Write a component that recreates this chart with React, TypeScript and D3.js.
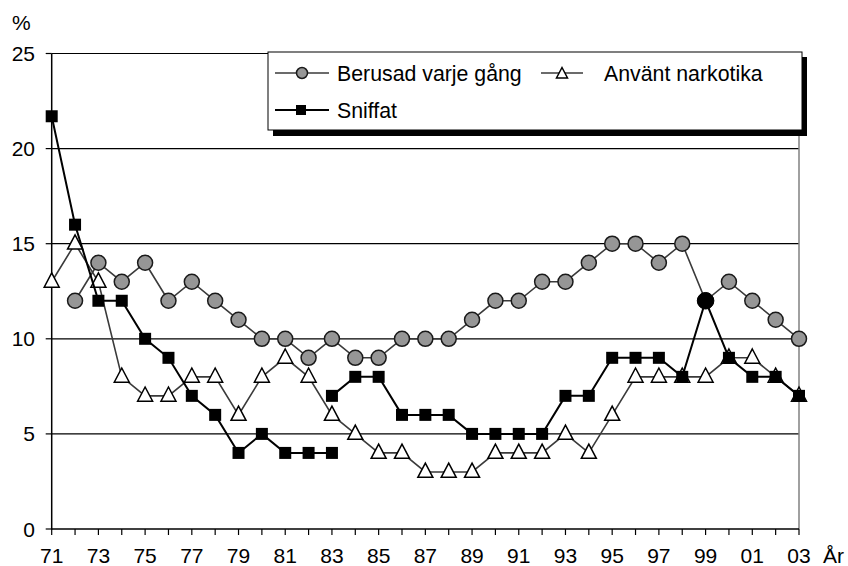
import React from "react";
import * as d3 from "d3";

const years = ["71","72","73","74","75","76","77","78","79","80","81","82","83","84","85","86","87","88","89","90","91","92","93","94","95","96","97","98","99","00","01","02","03"];
const xTickLabels = ["71","73","75","77","79","81","83","85","87","89","91","93","95","97","99","01","03"];
const yTicks = [0, 5, 10, 15, 20, 25];

const berusad: (number | null)[] = [null,12,14,13,14,12,13,12,11,10,10,9,10,9,9,10,10,10,11,12,12,13,13,14,15,15,14,15,12,13,12,11,10];
const anvant: (number | null)[] = [13,15,13,8,7,7,8,8,6,8,9,8,6,5,4,4,3,3,3,4,4,4,5,4,6,8,8,8,8,9,9,8,7];
const sniffatOld: (number | null)[] = [21.7,16,12,12,10,9,7,6,4,5,4,4,4,null,null,null,null,null,null,null,null,null,null,null,null,null,null,null,null,null,null,null,null];
const sniffatNew: (number | null)[] = [null,null,null,null,null,null,null,null,null,null,null,null,7,8,8,6,6,6,5,5,5,5,7,7,9,9,9,8,12,9,8,8,7];
const highlightYears = ["99"];
const highlightValues = [12];

const W = 848, H = 566;
const FONT = "'Liberation Sans', Arial, Helvetica, sans-serif";

export default function App() {
  const x = d3.scalePoint<string>().domain(years).range([51.7, 799]);
  const y = d3.scaleLinear().domain([0, 25]).range([529, 53.5]);

  const line = d3
    .line<number | null>()
    .defined((d) => d !== null)
    .x((_, i) => x(years[i]) as number)
    .y((d) => y(d as number));

  const pts = (arr: (number | null)[]) =>
    arr.map((v, i) => ({ v, yr: years[i] })).filter((d) => d.v !== null) as { v: number; yr: string }[];

  const tri = (cx: number, cy: number, s: number) => {
    const h = s * 0.95;
    return `M${cx},${cy - h * 0.62}L${cx + s / 2},${cy + h * 0.38}L${cx - s / 2},${cy + h * 0.38}Z`;
  };

  const x0 = 51.7, x1 = 799, yBot = 529, yTop = 53.5;

  // legend
  const lx = 268, ly = 52, lw = 534, lh = 78;
  const row1 = 73, row2 = 110;

  return (
    <svg width={W} height={H} style={{ position: "absolute", left: 0, top: 0, background: "#fff" }} fontFamily={FONT}>
      <rect x={0} y={0} width={W} height={H} fill="#fff" />
      {/* gridlines */}
      {yTicks.filter((t) => t > 0).map((t) => (
        <line key={t} x1={x0} x2={x1} y1={y(t)} y2={y(t)} stroke="#000" strokeWidth={1.2} />
      ))}
      {/* right border */}
      <line x1={x1} x2={x1} y1={yTop} y2={yBot} stroke="#808080" strokeWidth={1.5} />
      {/* axes */}
      <line x1={x0} x2={x0} y1={yTop} y2={yBot + 0.5} stroke="#000" strokeWidth={1.5} />
      <line x1={x0} x2={x1} y1={yBot} y2={yBot} stroke="#000" strokeWidth={1.5} />
      {yTicks.map((t) => (
        <g key={t}>
          <line x1={x0 - 6} x2={x0} y1={y(t)} y2={y(t)} stroke="#000" strokeWidth={1.2} />
          <text x={35} y={y(t)} dy="0.36em" textAnchor="end" fontSize={21}>{t}</text>
        </g>
      ))}
      {years.map((yr) => (
        <line key={yr} x1={x(yr)} x2={x(yr)} y1={yBot} y2={yBot + 6} stroke="#000" strokeWidth={1.2} />
      ))}
      {xTickLabels.map((yr) => (
        <text key={yr} x={x(yr)} y={563} textAnchor="middle" fontSize={21}>{yr}</text>
      ))}
      <text x={823} y={563} fontSize={21}>År</text>
      <text x={12} y={30} fontSize={21}>%</text>

      {/* Berusad */}
      <path d={line(berusad) || ""} fill="none" stroke="#3a3a3a" strokeWidth={1.6} />
      {pts(berusad).map((d) => (
        <circle key={d.yr} cx={x(d.yr)} cy={y(d.v)} r={7.5} fill="#969696" stroke="#1a1a1a" strokeWidth={1.5} />
      ))}
      {/* Använt */}
      <path d={line(anvant) || ""} fill="none" stroke="#3a3a3a" strokeWidth={1.6} />
      {pts(anvant).map((d) => (
        <path key={d.yr} d={tri(x(d.yr) as number, y(d.v), 15)} fill="#fff" stroke="#000" strokeWidth={1.5} />
      ))}
      {/* Sniffat */}
      <path d={line(sniffatOld) || ""} fill="none" stroke="#000" strokeWidth={2} />
      <path d={line(sniffatNew) || ""} fill="none" stroke="#000" strokeWidth={2} />
      {pts(sniffatOld).concat(pts(sniffatNew)).filter((d) => !highlightYears.includes(d.yr)).map((d, i) => (
        <rect key={i} x={(x(d.yr) as number) - 6} y={y(d.v) - 6} width={12} height={12} fill="#000" />
      ))}
      {highlightYears.map((yr, i) => (
        <circle key={yr} cx={x(yr)} cy={y(highlightValues[i])} r={8.3} fill="#000" stroke="#000" strokeWidth={1} />
      ))}

      {/* legend */}
      <rect x={lx + 5} y={ly + 5} width={lw} height={lh + 1} fill="#000" />
      <rect x={lx} y={ly} width={lw} height={lh} fill="#fff" stroke="#000" strokeWidth={1} />
      <line x1={275} x2={329} y1={row1} y2={row1} stroke="#3a3a3a" strokeWidth={1.6} />
      <circle cx={302} cy={row1} r={5.5} fill="#969696" stroke="#1a1a1a" strokeWidth={1.5} />
      <text x={337} y={row1} dy="0.36em" fontSize={21.3}>Berusad varje gång</text>
      <line x1={541} x2={583} y1={row1} y2={row1} stroke="#3a3a3a" strokeWidth={1.6} />
      <path d={tri(562, row1 + 1, 11)} fill="#fff" stroke="#000" strokeWidth={1.5} />
      <text x={604} y={row1} dy="0.36em" fontSize={21.3}>Använt narkotika</text>
      <line x1={275} x2={329} y1={row2} y2={row2} stroke="#000" strokeWidth={2} />
      <rect x={296} y={row2 - 5} width={10} height={10} fill="#000" />
      <text x={337} y={row2} dy="0.36em" fontSize={21.3}>Sniffat</text>
    </svg>
  );
}
